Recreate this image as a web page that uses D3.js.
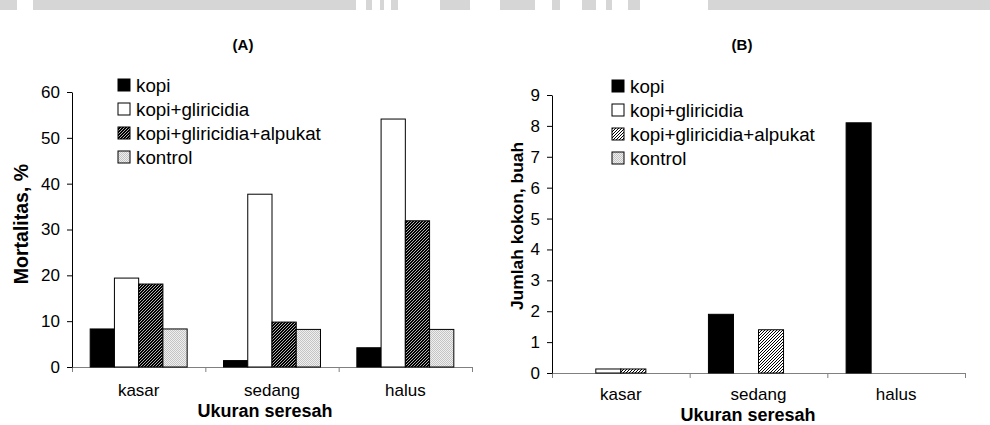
<!DOCTYPE html>
<html>
<head>
<meta charset="utf-8">
<script src="https://cdn.jsdelivr.net/npm/d3@7"></script>
<style>
  html, body { margin: 0; padding: 0; background: #fff; }
  svg { display: block; font-family: "Liberation Sans", Arial, sans-serif; }
</style>
</head>
<body>
<svg id="chart" width="990" height="425"></svg>
<script>
// Categories (litter size) and treatment series
const categories = ["kasar", "sedang", "halus"];
const seriesNames = ["kopi", "kopi+gliricidia", "kopi+gliricidia+alpukat", "kontrol"];

// (A) Mortalitas, %
const mortKopi        = [8.3, 1.4, 4.2];
const mortKopiGli     = [19.4, 37.7, 54.1];
const mortKopiGliAlp  = [18.1, 9.8, 31.9];
const mortKontrol     = [8.3, 8.2, 8.2];
const ticksA = [0, 10, 20, 30, 40, 50, 60];

// (B) Jumlah kokon, buah
const kokonKopi       = [0, 1.9, 8.1];
const kokonKopiGli    = [0.13, 0, 0];
const kokonKopiGliAlp = [0.13, 1.4, 0];
const kokonKontrol    = [0, 0, 0];
const ticksB = [0, 1, 2, 3, 4, 5, 6, 7, 8, 9];

const svg = d3.select("#chart");
const defs = svg.append("defs");

// Fill patterns
function diagPattern(id, size, bg, fg, w) {
  const s = size;
  const p = defs.append("pattern").attr("id", id)
    .attr("patternUnits", "userSpaceOnUse").attr("width", s).attr("height", s);
  p.append("rect").attr("width", s).attr("height", s).attr("fill", bg);
  p.append("path").attr("d", `M-1,1 l2,-2 M0,${s} l${s},-${s} M${s - 1},${s + 1} l2,-2`)
    .attr("stroke", fg).attr("stroke-width", w);
}
diagPattern("hatchDark", 3, "#000", "#fff", 0.7);
diagPattern("hatchLight", 3, "#fff", "#000", 1.0);

const dots = defs.append("pattern").attr("id", "dots")
  .attr("patternUnits", "userSpaceOnUse").attr("width", 2).attr("height", 2);
dots.append("rect").attr("width", 2).attr("height", 2).attr("fill", "#efefef");
dots.append("rect").attr("width", 1).attr("height", 1).attr("fill", "#c4c4c4");
dots.append("rect").attr("x", 1).attr("y", 1).attr("width", 1).attr("height", 1).attr("fill", "#c4c4c4");

// Top banner strip
const band = svg.append("g").attr("fill", "#d6d6d6");
[[0, 17], [33, 356], [366, 372], [380, 384], [391, 398], [440, 470], [500, 535],
 [552, 560], [582, 596], [606, 612], [628, 640], [708, 990]].forEach(([a, b]) => {
  band.append("rect").attr("x", a).attr("y", 0).attr("width", b - a).attr("height", 10);
});

function drawPanel(cfg) {
  const g = svg.append("g");
  const x = d3.scaleBand().domain(categories).range([cfg.x0, cfg.x1]);
  const xb = d3.scaleLinear().domain([0, categories.length]).range([cfg.x0, cfg.x1]);
  const xs = d3.scaleBand().domain(seriesNames).range([0, x.bandwidth()])
    .paddingInner(0).paddingOuter(0.75);
  const y = d3.scaleLinear().domain([0, cfg.max]).range([cfg.y0, cfg.y1]);

  const fills = ["#000", "#fff", cfg.hatch, "url(#dots)"];
  const rows = [];
  cfg.series.forEach((vals, si) => {
    vals.forEach((v, ci) => rows.push({ s: seriesNames[si], si, c: categories[ci], v }));
  });

  // x axis (category boundaries)
  const xAxis = g.append("g").attr("transform", `translate(0,${cfg.y0})`)
    .call(d3.axisBottom(xb).tickValues([0, 1, 2, 3]).tickFormat("").tickSizeOuter(0).tickSize(5));
  xAxis.selectAll("path,line").attr("stroke", "#808080").attr("stroke-width", 1);

  // bars
  g.append("g").selectAll("rect")
    .data(rows.filter(d => d.v > 0))
    .join("rect")
    .attr("x", d => x(d.c) + xs(d.s))
    .attr("y", d => y(d.v))
    .attr("width", xs.bandwidth())
    .attr("height", d => y(0) - y(d.v))
    .attr("fill", d => fills[d.si])
    .attr("stroke", "#000")
    .attr("stroke-width", 1);

  // y axis
  const yAxis = g.append("g").attr("transform", `translate(${cfg.x0},0)`)
    .call(d3.axisLeft(y).tickValues(cfg.ticks).tickSize(5).tickSizeOuter(0).tickPadding(7));
  yAxis.select(".domain").attr("stroke", "#000");
  yAxis.selectAll(".tick line").attr("stroke", "#000");
  yAxis.selectAll("text").attr("font-size", 17).attr("fill", "#000")
    .attr("font-family", "Liberation Sans, Arial, sans-serif");

  // category labels
  g.append("g").selectAll("text").data(categories).join("text")
    .attr("x", d => x(d) + x.bandwidth() / 2)
    .attr("y", cfg.catY)
    .attr("text-anchor", "middle")
    .attr("font-size", 17)
    .text(d => d);

  // axis titles
  g.append("text")
    .attr("x", cfg.xTitleX).attr("y", cfg.xTitleY)
    .attr("text-anchor", "middle").attr("font-size", 18).attr("font-weight", "bold")
    .text("Ukuran seresah");
  g.append("text")
    .attr("transform", `translate(${cfg.yTitleX},${cfg.yTitleY}) rotate(-90)`)
    .attr("text-anchor", "middle").attr("font-size", cfg.yTitleSize).attr("font-weight", "bold")
    .text(cfg.yTitle);

  // panel title
  g.append("text")
    .attr("x", cfg.titleX).attr("y", 50)
    .attr("text-anchor", "middle").attr("font-size", 15).attr("font-weight", "bold")
    .text(cfg.title);

  // legend
  const lg = g.append("g");
  seriesNames.forEach((name, i) => {
    const cy = cfg.legY + i * 24;
    lg.append("rect")
      .attr("x", cfg.legX).attr("y", cy - 6)
      .attr("width", 12).attr("height", 12)
      .attr("fill", fills[i]).attr("stroke", "#000").attr("stroke-width", 1);
    lg.append("text")
      .attr("x", cfg.legX + 18).attr("y", cy + 6.5)
      .attr("font-size", 18.8)
      .text(name);
  });
}

drawPanel({
  x0: 72, x1: 472, y0: 367, y1: 92, max: 60, ticks: ticksA,
  series: [mortKopi, mortKopiGli, mortKopiGliAlp, mortKontrol],
  hatch: "url(#hatchDark)",
  title: "(A)", titleX: 243,
  yTitle: "Mortalitas, %", yTitleX: 28, yTitleY: 224, yTitleSize: 19.5,
  catY: 396, xTitleX: 265, xTitleY: 417,
  legX: 118, legY: 85
});

drawPanel({
  x0: 552, x1: 965, y0: 373, y1: 95, max: 9, ticks: ticksB,
  series: [kokonKopi, kokonKopiGli, kokonKopiGliAlp, kokonKontrol],
  hatch: "url(#hatchLight)",
  title: "(B)", titleX: 742,
  yTitle: "Jumlah kokon, buah", yTitleX: 523, yTitleY: 226, yTitleSize: 17.4,
  catY: 400, xTitleX: 748, xTitleY: 421,
  legX: 612, legY: 86
});
</script>
</body>
</html>
